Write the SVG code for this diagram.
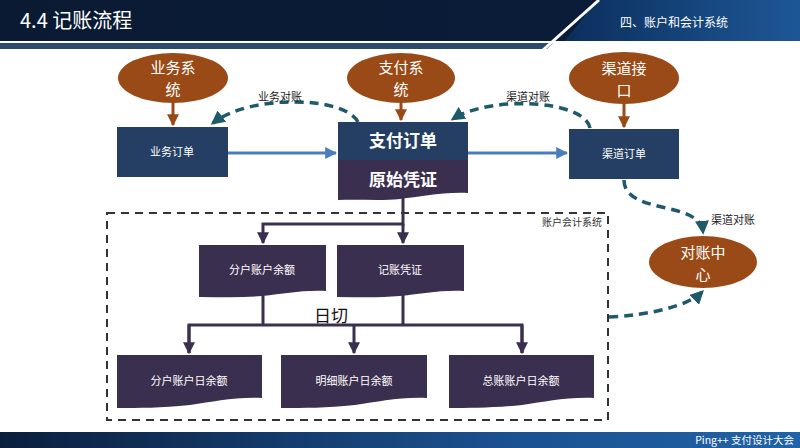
<svg xmlns="http://www.w3.org/2000/svg" width="800" height="448" viewBox="0 0 800 448">
  <defs>
    <linearGradient id="hdrRight" x1="0" y1="0" x2="1" y2="0">
      <stop offset="0" stop-color="#0c2f5c"/>
      <stop offset="1" stop-color="#1d5796"/>
    </linearGradient>
    <linearGradient id="hdrLeft" x1="0" y1="0" x2="1" y2="0">
      <stop offset="0" stop-color="#0a1a33"/>
      <stop offset="1" stop-color="#0a1d3a"/>
    </linearGradient>
    <linearGradient id="foot" x1="0" y1="0" x2="1" y2="0">
      <stop offset="0" stop-color="#0b1f3d"/>
      <stop offset="0.6" stop-color="#1a4f8c"/>
      <stop offset="1" stop-color="#2063a8"/>
    </linearGradient>
    <marker id="arrBrown" viewBox="0 0 10 10" refX="9" refY="5" markerWidth="4" markerHeight="4" orient="auto">
      <path d="M0,0 L10,5 L0,10 Z" fill="#9a4a17"/>
    </marker>
    <marker id="arrBlue" viewBox="0 0 10 10" refX="9" refY="5" markerWidth="4" markerHeight="4" orient="auto">
      <path d="M0,0 L10,5 L0,10 Z" fill="#4a7ebb"/>
    </marker>
    <marker id="arrTeal" viewBox="0 0 10 10" refX="8" refY="5" markerWidth="4" markerHeight="4" orient="auto">
      <path d="M0,0 L10,5 L0,10 Z" fill="#1f5a6b"/>
    </marker>
    <marker id="arrDark" viewBox="0 0 10 10" refX="9" refY="5" markerWidth="4" markerHeight="4" orient="auto">
      <path d="M0,0 L10,5 L0,10 Z" fill="#3b2f4f"/>
    </marker>
    <style>
      .cn { font-family: "Noto Sans CJK SC", "Noto Sans", sans-serif; }
      .ell { fill: #9a4a17; }
      .ellTxt { fill: #ffffff; font-size: 15px; text-anchor: middle; }
      .navy { fill: #243f63; }
      .purple { fill: #3b2f4f; }
      .boxTxt { fill: #ffffff; font-size: 11px; text-anchor: middle; }
      .bigTxt { fill: #ffffff; font-size: 17px; font-weight: bold; text-anchor: middle; }
      .lbl { fill: #222222; font-size: 11px; text-anchor: middle; }
      .brown { stroke: #9a4a17; stroke-width: 3; fill: none; marker-end: url(#arrBrown); }
      .blue { stroke: #4a7ebb; stroke-width: 3; fill: none; marker-end: url(#arrBlue); }
      .teal { stroke: #1f5a6b; stroke-width: 3.5; fill: none; stroke-dasharray: 9 6; marker-end: url(#arrTeal); }
      .dark { stroke: #3b2f4f; stroke-width: 3; fill: none; }
      .darkArr { stroke: #3b2f4f; stroke-width: 3; fill: none; marker-end: url(#arrDark); }
    </style>
  </defs>

  <rect width="800" height="448" fill="#ffffff"/>

  <!-- header band -->
  <g id="header">
    <rect x="0" y="0" width="800" height="41" fill="url(#hdrLeft)"/>
    <polygon points="597,0 800,0 800,41 565,41" fill="url(#hdrRight)"/>
    <polygon points="0,43 553,43 547,49 0,49" fill="#2b4a6e"/>
    <line x1="599" y1="0" x2="543" y2="50" stroke="#ffffff" stroke-width="3"/>
    <text x="20" y="28" class="cn" font-size="20" fill="#ffffff">4.4 记账流程</text>
    <text x="620" y="27" class="cn" font-size="12" fill="#ffffff">四、账户和会计系统</text>
  </g>

  <!-- footer band -->
  <g id="footer">
    <rect x="0" y="432" width="800" height="16" fill="url(#foot)"/>
    <text x="794" y="444" class="cn" font-size="10.5" fill="#ffffff" text-anchor="end">Ping++ 支付设计大会</text>
  </g>

  <!-- accounting system boundary -->
  <g id="boundary">
    <rect x="107" y="213" width="501" height="207" fill="none" stroke="#333333" stroke-width="2" stroke-dasharray="8 6"/>
    <text x="602" y="226" class="cn" font-size="10" fill="#333333" text-anchor="end">账户会计系统</text>
  </g>

  <!-- connectors -->
  <g id="connectors">
    <line x1="173" y1="103" x2="173" y2="125" class="brown"/>
    <line x1="401" y1="103" x2="401" y2="120" class="brown"/>
    <line x1="624" y1="104" x2="624" y2="127" class="brown"/>

    <line x1="228" y1="153" x2="336" y2="153" class="blue"/>
    <line x1="468" y1="153" x2="567" y2="153" class="blue"/>

    <path d="M358,122 C345,96 250,94 213,123" class="teal"/>
    <path d="M590,128 C585,100 490,95 453,119" class="teal"/>
    <path d="M624,180 C624,215 700,200 703,232" class="teal"/>
    <path d="M609,317 C650,315 688,306 702,292" class="teal"/>

    <polyline points="403,196 403,224 263,224 263,243" class="darkArr"/>
    <line x1="403" y1="224" x2="403" y2="243" class="darkArr"/>

    <line x1="263" y1="292" x2="263" y2="325" class="dark"/>
    <line x1="403" y1="292" x2="403" y2="325" class="dark"/>
    <polyline points="189,353 189,325 522,325 522,353" class="dark"/>
    <line x1="189" y1="325" x2="189" y2="353" class="darkArr"/>
    <line x1="354" y1="325" x2="354" y2="353" class="darkArr"/>
    <line x1="522" y1="325" x2="522" y2="353" class="darkArr"/>

    <text x="280" y="101" class="cn lbl">业务对账</text>
    <text x="528" y="101" class="cn lbl">渠道对账</text>
    <text x="733" y="224" class="cn lbl">渠道对账</text>
    <text x="331" y="322" class="cn" font-size="17" fill="#111111" text-anchor="middle">日切</text>
  </g>

  <!-- source systems -->
  <g id="bizSystem">
    <ellipse cx="173" cy="78" rx="55" ry="25" class="ell"/>
    <text x="173" y="73" class="cn ellTxt">业务系</text>
    <text x="173" y="95" class="cn ellTxt">统</text>
  </g>
  <g id="paySystem">
    <ellipse cx="401" cy="78" rx="54" ry="25" class="ell"/>
    <text x="401" y="73" class="cn ellTxt">支付系</text>
    <text x="401" y="95" class="cn ellTxt">统</text>
  </g>
  <g id="channelApi">
    <ellipse cx="624" cy="78" rx="55" ry="26" class="ell"/>
    <text x="624" y="74" class="cn ellTxt">渠道接</text>
    <text x="624" y="96" class="cn ellTxt">口</text>
  </g>

  <!-- orders -->
  <g id="bizOrder">
    <rect x="117" y="127" width="111" height="50" class="navy"/>
    <text x="172" y="156" class="cn boxTxt">业务订单</text>
  </g>
  <g id="payOrder">
    <rect x="338" y="122" width="130" height="38" class="navy"/>
    <path d="M338,160 H468 V193 C440,192 420,197 400,199 C380,201 360,199 338,200 Z" class="purple"/>
    <text x="403" y="147" class="cn bigTxt">支付订单</text>
    <text x="403" y="186" class="cn bigTxt">原始凭证</text>
  </g>
  <g id="channelOrder">
    <rect x="569" y="129" width="110" height="50" class="navy"/>
    <text x="624" y="158" class="cn boxTxt">渠道订单</text>
  </g>

  <!-- reconciliation center -->
  <g id="reconCenter">
    <ellipse cx="703" cy="262" rx="54" ry="26" class="ell"/>
    <text x="703" y="258" class="cn ellTxt">对账中</text>
    <text x="703" y="280" class="cn ellTxt">心</text>
  </g>

  <!-- ledger documents -->
  <g id="subBalance">
    <path d="M199,245 H326 V291 C300,290 285,294 262,296 C240,298 220,297 199,297 Z" class="purple"/>
    <text x="262" y="274" class="cn boxTxt">分户账户余额</text>
  </g>
  <g id="voucher">
    <path d="M337,245 H464 V291 C438,290 423,294 400,296 C378,298 358,297 337,297 Z" class="purple"/>
    <text x="400" y="274" class="cn boxTxt">记账凭证</text>
  </g>
  <g id="subDaily">
    <path d="M117,355 H262 V398 C232,397 214,402 190,405 C160,408 140,408 117,408 Z" class="purple"/>
    <text x="189" y="385" class="cn boxTxt">分户账户日余额</text>
  </g>
  <g id="detailDaily">
    <path d="M281,355 H427 V398 C397,397 379,402 355,405 C325,408 305,408 281,408 Z" class="purple"/>
    <text x="354" y="385" class="cn boxTxt">明细账户日余额</text>
  </g>
  <g id="generalDaily">
    <path d="M449,355 H594 V398 C564,397 546,402 522,405 C492,408 472,408 449,408 Z" class="purple"/>
    <text x="521" y="385" class="cn boxTxt">总账账户日余额</text>
  </g>
</svg>
